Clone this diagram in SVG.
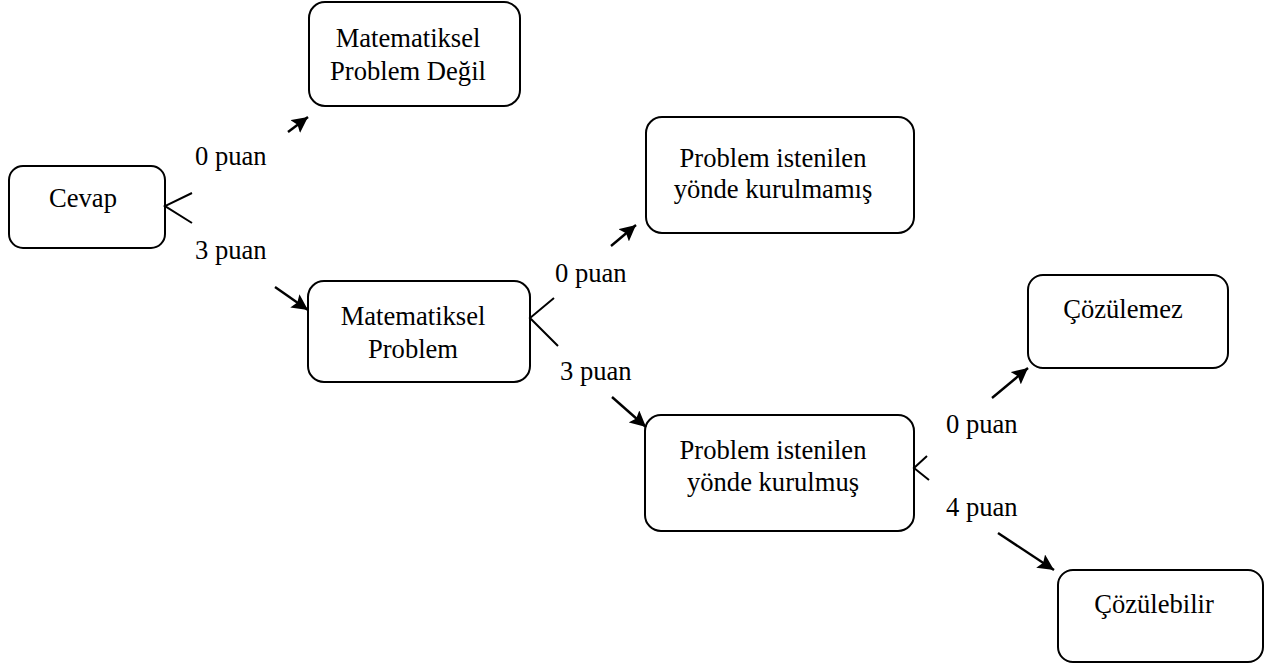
<svg xmlns="http://www.w3.org/2000/svg" width="1268" height="666" viewBox="0 0 1268 666">
<style>
.box{fill:#fff;stroke:#000;stroke-width:2}
.t{font-family:"Liberation Serif","Times New Roman",serif;font-size:26.6px;fill:#000}
.c{text-anchor:middle}
.ln{stroke:#000;stroke-width:2.4;fill:none}
.fk{stroke:#000;stroke-width:2;fill:none}
</style>
<defs>
<marker id="ah" markerUnits="userSpaceOnUse" markerWidth="18" markerHeight="16" refX="16" refY="8" orient="auto">
<path d="M0,0 L16,8 L0,16 L3,8 Z" fill="#000"/>
</marker>
</defs>
<rect width="1268" height="666" fill="#fff"/>
<g id="cevap">
<rect class="box" x="9" y="166" width="156" height="82" rx="14"/>
<text class="t c" x="83" y="207">Cevap</text>
</g>
<g id="mat-degil">
<rect class="box" x="309" y="2" width="211" height="104" rx="16"/>
<text class="t c" x="408" y="47">Matematiksel</text>
<text class="t c" x="408" y="80">Problem Değil</text>
</g>
<g id="mat-problem">
<rect class="box" x="308" y="281" width="222" height="101" rx="16"/>
<text class="t c" x="413" y="325">Matematiksel</text>
<text class="t c" x="413" y="358">Problem</text>
</g>
<g id="kurulmamis">
<rect class="box" x="646" y="117" width="268" height="116" rx="16"/>
<text class="t c" x="773" y="167">Problem istenilen</text>
<text class="t c" x="773" y="198">yönde kurulmamış</text>
</g>
<g id="kurulmus">
<rect class="box" x="645" y="415" width="269" height="116" rx="16"/>
<text class="t c" x="773" y="459">Problem istenilen</text>
<text class="t c" x="773" y="491">yönde kurulmuş</text>
</g>
<g id="cozulemez">
<rect class="box" x="1028" y="275" width="200" height="93" rx="15"/>
<text class="t c" x="1123" y="318">Çözülemez</text>
</g>
<g id="cozulebilir">
<rect class="box" x="1058" y="570" width="205" height="92" rx="15"/>
<text class="t c" x="1154" y="613">Çözülebilir</text>
</g>
<g id="connectors">
<polyline class="fk" points="192,193 165,206 192,223"/>
<line class="ln" x1="288" y1="132" x2="308" y2="117" marker-end="url(#ah)"/>
<line class="ln" x1="275" y1="287" x2="308" y2="310" marker-end="url(#ah)"/>
<polyline class="fk" points="554,298 530,318 558,346"/>
<line class="ln" x1="611" y1="246" x2="636" y2="225" marker-end="url(#ah)"/>
<line class="ln" x1="612" y1="397" x2="646" y2="427" marker-end="url(#ah)"/>
<polyline class="fk" points="927,456 914,468 929,480"/>
<line class="ln" x1="992" y1="398" x2="1028" y2="368" marker-end="url(#ah)"/>
<line class="ln" x1="998" y1="533" x2="1054" y2="570" marker-end="url(#ah)"/>
<text class="t" x="195" y="165">0 puan</text>
<text class="t" x="195" y="259">3 puan</text>
<text class="t" x="555" y="282">0 puan</text>
<text class="t" x="560" y="380">3 puan</text>
<text class="t" x="946" y="433">0 puan</text>
<text class="t" x="946" y="516">4 puan</text>
</g>
</svg>
